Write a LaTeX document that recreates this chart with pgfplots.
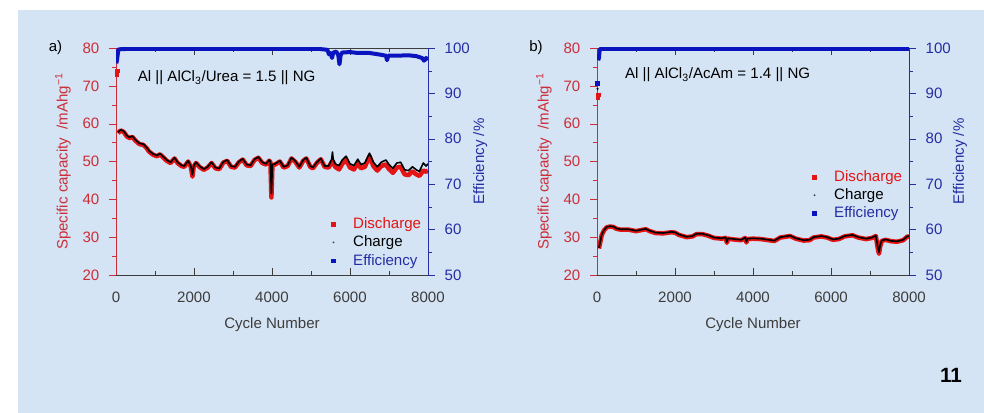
\documentclass[border=0pt]{standalone}
\usepackage{fontspec}
\setmainfont{Liberation Sans}
\usepackage{pgfplots}
\usepackage{pgfplotstable}
\pgfplotsset{compat=1.18}

\definecolor{bgblue}{RGB}{213,228,244}
\definecolor{capred}{RGB}{205,45,55}
\definecolor{datared}{RGB}{228,20,20}
\definecolor{effblue}{RGB}{35,45,165}
\definecolor{datablue}{RGB}{10,20,190}
\definecolor{axgray}{RGB}{60,60,60}
\newcommand\fs{\fontsize{11.3}{13.5}\selectfont}

% panel a: cycle, discharge, charge
\pgfplotstableread{
cyc dis cha
50 57.5 57.7
120 58.2 58.4
200 57.8 58.0
280 56.6 56.8
350 56.2 56.4
420 56.5 56.7
500 55.5 55.7
600 54.6 54.8
700 54.4 54.6
780 53.6 53.8
850 52.6 52.8
950 51.8 52.0
1050 51.4 51.6
1130 51.9 52.1
1200 51.2 51.4
1300 50.2 50.4
1400 49.6 49.8
1500 50.8 51.0
1580 49.6 49.8
1680 48.8 49.0
1750 48.6 48.8
1850 50.0 50.2
1920 48.6 48.8
1960 46.0 46.5
1990 48.5 48.7
2050 49.6 49.8
2150 48.5 48.7
2250 47.8 48.0
2350 48.4 48.6
2450 49.6 49.8
2550 48.2 48.4
2650 48.0 48.2
2750 49.7 49.9
2850 50.2 50.4
2950 48.6 48.8
3050 48.4 48.6
3150 49.8 50.0
3250 50.5 50.7
3350 49.0 49.2
3450 48.8 49.0
3550 50.4 50.6
3650 51.0 51.2
3750 49.6 49.8
3850 49.2 49.4
3930 50.2 50.4
3960 49.8 50.0
3985 40.5 41.5
4010 49.0 49.2
4080 49.2 49.4
4200 50.0 50.2
4300 48.4 48.6
4400 48.8 49.0
4500 50.8 51.0
4600 49.9 50.1
4700 48.4 48.6
4800 50.2 50.4
4880 50.8 51.0
4980 48.6 48.8
5050 48.2 48.4
5150 49.6 49.8
5250 50.6 50.8
5350 48.6 48.8
5450 48.4 48.8
5530 49.8 50.6
5550 50.0 52.5
5570 49.8 50.6
5620 48.6 49.4
5720 47.9 48.9
5800 49.4 50.4
5900 50.4 51.4
6000 48.4 49.4
6100 47.9 48.9
6200 49.6 50.6
6280 48.2 49.2
6380 48.6 49.6
6500 51.4 52.2
6600 48.8 49.8
6700 47.6 48.6
6800 48.8 49.8
6920 49.2 50.4
7000 48.0 49.2
7100 47.0 48.2
7200 48.4 49.6
7300 48.6 49.8
7400 46.6 47.8
7500 46.4 47.6
7600 47.4 48.6
7700 46.6 47.8
7780 46.2 47.4
7880 47.6 49.6
7950 47.3 48.8
8000 47.6 49.4
}\capA

\pgfplotstableread{
cyc eff
10 96.6
30 97.6
60 99.7
300 99.8
5200 99.8
5420 99.6
5460 98.6
5500 98.9
5540 97.8
5570 99.0
5650 99.2
5700 98.4
5730 96.4
5760 98.4
5800 99.0
6000 99.1
6200 98.9
6500 98.9
6800 98.5
6920 98.3
6950 97.3
6980 98.3
7200 98.3
7500 98.4
7700 98.2
7850 97.8
7900 97.2
7950 97.8
8000 97.4
}\effA

% panel b: cycle, discharge, charge
\pgfplotstableread{
cyc dis cha
50 27.0 27.2
80 28.5 28.6
120 30.5 30.6
180 31.8 31.9
250 32.6 32.7
330 32.8 32.9
420 32.7 32.8
500 32.2 32.3
600 32.0 32.1
800 32.0 32.1
1000 31.6 31.7
1150 31.9 32.0
1250 32.1 32.2
1350 31.6 31.7
1500 31.1 31.2
1700 31.0 31.1
1900 31.3 31.4
2000 31.2 31.3
2100 30.6 30.7
2300 30.0 30.1
2450 30.2 30.3
2550 30.8 30.9
2700 30.8 30.9
2850 30.4 30.5
3000 29.8 29.9
3200 29.6 29.7
3300 29.8 29.9
3330 28.5 28.7
3360 29.6 29.7
3500 29.4 29.5
3700 29.2 29.3
3800 29.8 29.9
3830 28.6 28.8
3860 29.5 29.6
4000 29.6 29.7
4200 29.5 29.6
4400 29.2 29.3
4550 29.0 29.1
4700 29.9 30.0
4950 30.3 30.4
5100 29.6 29.7
5300 29.1 29.2
5450 29.2 29.3
5550 29.9 30.0
5750 30.2 30.3
5900 29.9 30.0
6050 29.3 29.4
6200 29.5 29.6
6350 30.2 30.3
6550 30.5 30.6
6700 29.9 30.0
6900 29.5 29.6
7050 29.8 29.9
7150 30.3 30.4
7200 27.0 27.4
7230 25.6 26.0
7260 27.5 27.8
7300 29.0 29.1
7400 29.3 29.4
7550 28.9 29.0
7700 28.8 28.9
7850 29.2 29.3
7950 30.1 30.2
8000 30.2 30.3
}\capB

\pgfplotstableread{
cyc eff
30 97.3
50 97.8
70 99.7
100 99.8
8000 99.8
}\effB

\pgfplotsset{
  cap/.style={
    scale only axis, width=234pt, height=170.25pt,
    xmin=0, xmax=8000, ymin=20, ymax=80,
    axis x line*=box, axis y line*=left,
    xtick={0,2000,...,8000}, minor x tick num=1,
    ytick={20,30,...,80}, minor y tick num=1,
    xtick align=inside, ytick align=outside,
    major tick length=5pt, minor tick length=3pt,
    x axis line style={axgray, line width=0.6pt},
    y axis line style={capred, line width=0.6pt},
    xtick style={axgray}, ytick style={capred},
    tick label style={font=\fs},
    xticklabel style={axgray, yshift=-9pt},
    yticklabel style={capred, xshift=-4pt},
    /pgf/number format/assume math mode=true,
    /pgf/number format/1000 sep={},
    xlabel={Cycle Number},
    ylabel={Specific capacity \ /mAhg\textsuperscript{−1}},
    every axis x label/.style={at={(axis description cs:0.5,-0.22)}, anchor=center, font=\fs, text=axgray},
    every axis y label/.style={at={(axis description cs:-0.17,0.5)}, rotate=90, anchor=center, font=\fs, text=capred},
  },
  eff/.style={
    scale only axis, width=234pt, height=170.25pt,
    xmin=0, xmax=8000, ymin=50, ymax=100,
    axis x line=none, axis y line*=right,
    ytick={50,60,...,100}, minor y tick num=1,
    ytick align=outside,
    major tick length=5pt, minor tick length=3pt,
    y axis line style={effblue, line width=0.6pt},
    ytick style={effblue},
    tick label style={font=\fs},
    yticklabel style={effblue, xshift=4pt},
    /pgf/number format/assume math mode=true,
    ylabel={Efficiency /\%},
    every axis y label/.style={at={(axis description cs:#1,0.5)}, rotate=90, anchor=center, font=\fs, text=effblue},
    legend style={draw=none, fill=none, font=\fs, row sep=0pt},
    legend cell align=left,
  },
  dotlegend/.style={legend image code/.code={
    \path[draw=none, fill=none] (0cm,0cm) -- (0.57cm,0cm);
    \draw[##1] plot coordinates {(0.12cm,0cm)};}},
}

\begin{document}
\begin{tikzpicture}
\useasboundingbox (0,0) rectangle (738pt,309.75pt);
\fill[white] (0,0) rectangle (738pt,309.75pt);
\fill[bgblue] (13.5pt,0) rectangle (738pt,302.25pt);

% ---- panel a
\begin{axis}[cap, at={(87pt,103.5pt)}]
\addplot[only marks, mark=square*, mark size=1.3pt, datared] coordinates {(20,73.0) (32,74.0)};
\addplot[datared, line width=3.4pt, line join=round] table[x=cyc,y=dis]{\capA};
\addplot[black, line width=1.2pt, line join=round] table[x=cyc,y=cha]{\capA};
\node[anchor=west, font=\fs] at (rel axis cs:0.055,0.868) {Al || AlCl\textsubscript{3}/Urea = 1.5 || NG};
\end{axis}
\begin{axis}[eff=1.167, at={(87pt,103.5pt)},
  legend style={at={(axis description cs:1.0,0.277)}, anchor=north east}]
\addlegendimage{dotlegend, only marks, mark=square*, mark size=1.4pt, datared}
\addlegendentry{\textcolor{datared}{Discharge}}
\addlegendimage{dotlegend, only marks, mark=*, mark size=0.5pt, black!70}
\addlegendentry{Charge}
\addlegendimage{dotlegend, only marks, mark=square*, mark size=1.4pt, datablue}
\addlegendentry{\textcolor{effblue}{Efficiency}}
\addplot[datablue, line width=3pt, line join=round, forget plot] table[x=cyc,y=eff]{\effA};
\end{axis}

% ---- panel b
\begin{axis}[cap, at={(447.75pt,103.5pt)}]
\addplot[only marks, mark=square*, mark size=1.3pt, datared] coordinates {(22,67.0) (34,67.6)};
\addplot[only marks, mark=*, mark size=0.6pt, black] coordinates {(14,69.2)};
\addplot[datared, line width=3.4pt, line join=round] table[x=cyc,y=dis]{\capB};
\addplot[black, line width=1.2pt, line join=round] table[x=cyc,y=cha]{\capB};
\node[anchor=west, font=\fs] at (rel axis cs:0.075,0.881) {Al || AlCl\textsubscript{3}/AcAm = 1.4 || NG};
\end{axis}
\begin{axis}[eff=1.163, at={(447.75pt,103.5pt)},
  legend style={at={(axis description cs:1.0,0.485)}, anchor=north east}]
\addlegendimage{dotlegend, only marks, mark=square*, mark size=1.4pt, datared}
\addlegendentry{\textcolor{datared}{Discharge}}
\addlegendimage{dotlegend, only marks, mark=*, mark size=0.5pt, black!70}
\addlegendentry{Charge}
\addlegendimage{dotlegend, only marks, mark=square*, mark size=1.4pt, datablue}
\addlegendentry{\textcolor{effblue}{Efficiency}}
\addplot[only marks, mark=square*, mark size=1.4pt, datablue, forget plot] coordinates {(12,92.3)};
\addplot[datablue, line width=3pt, line join=round, forget plot] table[x=cyc,y=eff]{\effB};
\end{axis}

\node[font=\fs] at (41.6pt,273.75pt) {a)};
\node[font=\fs] at (402pt,273.75pt) {b)};
\node[font=\fontsize{15.5}{18}\selectfont\bfseries] at (713.25pt,28.1pt) {11};
\end{tikzpicture}
\end{document}
